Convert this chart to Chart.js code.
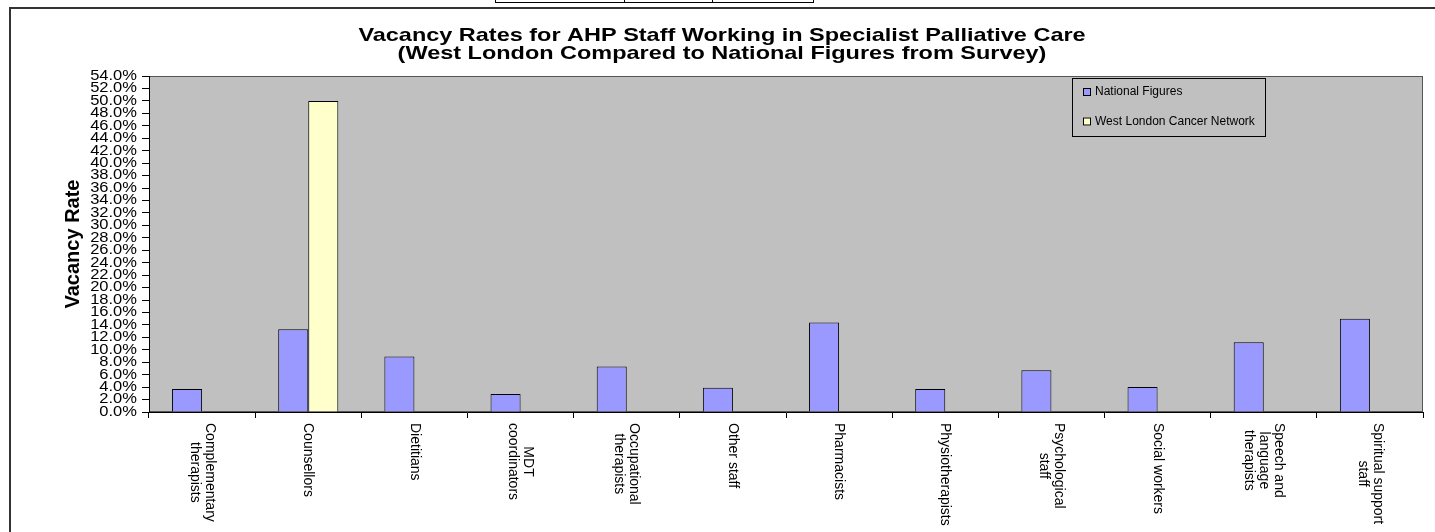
<!DOCTYPE html>
<html>
<head>
<meta charset="utf-8">
<script src="https://cdn.jsdelivr.net/npm/chart.js@4"></script>
<style>
  body { margin: 0; background: #fff; overflow: hidden; }
  #wrap { position: relative; width: 1435px; height: 532px; overflow: hidden; }
  #c { position: absolute; left: 0; top: 0; }
  .frame { position: absolute; left: 9px; top: 7px; width: 1440px; height: 540px; border-left: 2px solid #333; border-top: 2px solid #333; }
  .cells { position: absolute; left: 495px; top: -2px; width: 317px; height: 3px; border: 1px solid #000; }
  .cells span { position: absolute; top: 0; height: 3px; border-left: 1px solid #000; }
</style>
</head>
<body>
<div id="wrap">
  <div class="cells"><span style="left:128px"></span><span style="left:216px"></span></div>
  <div class="frame"></div>
  <canvas id="c" width="1435" height="532"></canvas>
</div>
<script>
// data
const categories = [
  ["Complementary", "therapists"], "Counsellors", "Dietitians", ["MDT", "coordinators"],
  ["Occupational", "therapists"], "Other staff", "Pharmacists", "Physiotherapists",
  ["Psychological", "staff"], "Social workers", ["Speech and", "language", "therapists"],
  ["Spiritual support", "staff"]
];
const nationalFigures = [3.7, 13.3, 8.9, 2.9, 7.3, 3.9, 14.4, 3.7, 6.7, 4.0, 11.2, 15.0];
const westLondon = [null, 50.0, null, null, null, null, null, null, null, null, null, null];
const yMin = 0, yMax = 54, yStep = 2;
const titleLines = [
  "Vacancy Rates for AHP Staff Working in Specialist Palliative Care",
  "(West London Compared to National Figures from Survey)"
];

const FONT = "'Liberation Sans', Arial, sans-serif";

// text drawn a bit wider than it is tall, like the original export
function stretchText(ctx, text, x, y, sx, align) {
  ctx.save();
  ctx.translate(x, y);
  ctx.scale(sx, 1);
  ctx.textAlign = align;
  ctx.fillText(text, 0, 0);
  ctx.restore();
}

const chartDecor = {
  id: "chartDecor",
  beforeDraw(chart) {
    const { ctx, chartArea: a } = chart;
    ctx.save();
    ctx.fillStyle = "#c0c0c0";
    ctx.fillRect(a.left, a.top, a.right - a.left, a.bottom - a.top);
    ctx.strokeStyle = "#555";
    ctx.lineWidth = 1;
    ctx.strokeRect(a.left + 0.5, a.top + 0.5, a.right - a.left - 1, a.bottom - a.top - 1);
    ctx.restore();
  },
  afterDraw(chart) {
    const { ctx } = chart;
    ctx.save();
    ctx.fillStyle = "#000";

    // title
    ctx.font = `bold 19px ${FONT}`;
    ctx.textBaseline = "alphabetic";
    stretchText(ctx, titleLines[0], 722, 41, 1.235, "center");
    stretchText(ctx, titleLines[1], 722, 58.5, 1.235, "center");

    // y tick labels
    const y = chart.scales.y;
    ctx.font = `14px ${FONT}`;
    ctx.textBaseline = "middle";
    y.ticks.forEach(t => {
      stretchText(ctx, t.value.toFixed(1) + "%", 137, y.getPixelForValue(t.value), 1.18, "right");
    });

    // category labels, rotated clockwise
    const x = chart.scales.x;
    ctx.font = `14px ${FONT}`;
    chart.data.labels.forEach((lab, i) => {
      const lines = [].concat(lab);
      const w = Math.max(...lines.map(l => ctx.measureText(l).width));
      ctx.save();
      ctx.translate(x.getPixelForValue(i), x.top + 11);
      ctx.rotate(Math.PI / 2);
      ctx.textAlign = "center";
      ctx.textBaseline = "middle";
      lines.forEach((l, j) => ctx.fillText(l, w / 2, (j - (lines.length - 1) / 2) * 15));
      ctx.restore();
    });

    // legend box
    ctx.fillStyle = "#c0c0c0";
    ctx.fillRect(1072, 78, 193, 58);
    ctx.strokeStyle = "#000";
    ctx.lineWidth = 1;
    ctx.strokeRect(1072.5, 78.5, 193, 58);
    ctx.font = `12px ${FONT}`;
    ctx.textAlign = "left";
    ctx.textBaseline = "middle";
    chart.data.datasets.forEach((ds, i) => {
      const cy = 92 + i * 29.5;
      ctx.fillStyle = ds.backgroundColor;
      ctx.fillRect(1083, cy - 4, 8, 8);
      ctx.strokeRect(1083.5, cy - 3.5, 7, 7);
      ctx.fillStyle = "#000";
      ctx.fillText(ds.label, 1095, cy);
    });
    ctx.restore();
  }
};

new Chart(document.getElementById("c"), {
  type: "bar",
  data: {
    labels: categories,
    datasets: [
      { label: "National Figures", data: nationalFigures, backgroundColor: "#9999ff", borderColor: "#000", borderWidth: 1 },
      { label: "West London Cancer Network", data: westLondon, backgroundColor: "#ffffcc", borderColor: "#000", borderWidth: 1 }
    ]
  },
  options: {
    responsive: false,
    animation: false,
    layout: { padding: { top: 76, right: 12, left: 0, bottom: 0 } },
    datasets: { bar: { categoryPercentage: 0.566, barPercentage: 1 } },
    plugins: {
      legend: { display: false },
      title: { display: false },
      tooltip: { enabled: false }
    },
    scales: {
      x: {
        grid: { offset: true, drawOnChartArea: false, tickLength: 6, color: "#000" },
        border: { color: "#000" },
        ticks: { display: false },
        afterFit: s => { s.height = 120; }
      },
      y: {
        min: yMin,
        max: yMax,
        ticks: { stepSize: yStep, display: false, maxTicksLimit: 40, autoSkip: false },
        grid: { drawOnChartArea: false, tickLength: 7, color: "#000" },
        border: { color: "#000" },
        title: {
          display: true,
          text: "Vacancy Rate",
          color: "#000",
          font: { family: FONT, size: 20, weight: "bold" },
          padding: { top: 61, bottom: 0 }
        },
        afterFit: s => { s.width = 149; }
      }
    }
  },
  plugins: [chartDecor]
});
</script>
</body>
</html>
